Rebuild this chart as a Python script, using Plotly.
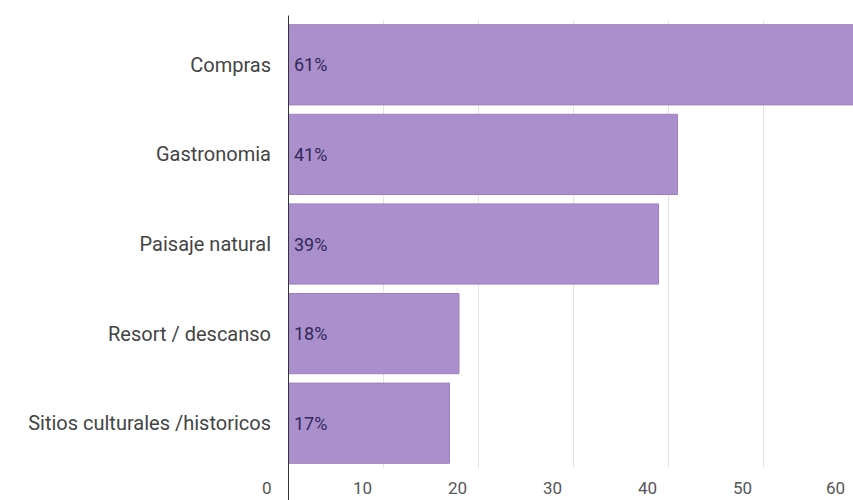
import plotly.graph_objects as go

# Motivos de viaje (porcentaje de encuestados)
categories = ["Compras", "Gastronomia", "Paisaje natural", "Resort / descanso",
              "Sitios culturales /historicos"]
values = [61, 41, 39, 18, 17]
value_labels = [f"{v}%" for v in values]
x_ticks = [0, 10, 20, 30, 40, 50, 60]

BAR = "#ab8fcc"
TEXT = "#444444"
TICK = "#555555"
X_MAX = 59.47

fig = go.Figure()

fig.add_trace(go.Bar(
    y=categories,
    x=values,
    orientation="h",
    marker=dict(color=BAR, line=dict(color="#9d80c2", width=1)),
    hoverinfo="x+y",
))

fig.update_layout(
    width=853,
    height=500,
    margin=dict(l=288, r=0, t=20, b=32),
    plot_bgcolor="white",
    paper_bgcolor="white",
    bargap=0.105,
    showlegend=False,
    font=dict(family="Roboto", color=TEXT),
)

fig.update_yaxes(
    autorange="reversed",
    showgrid=False,
    showline=False,
    ticks="",
    tickfont=dict(size=20, color=TEXT),
    ticklabelstandoff=16,
)

fig.update_xaxes(
    range=[0, X_MAX],
    tickvals=x_ticks,
    showticklabels=False,
    showgrid=True,
    gridcolor="#e3e3e3",
    gridwidth=1,
    zeroline=False,
    showline=False,
    ticks="",
)

# Baseline at zero, running past the bottom of the plot area
fig.add_shape(type="line", xref="x", yref="paper", x0=0, x1=0, y0=-0.08, y1=1.01,
              line=dict(color="#333333", width=2))

# Percentage labels just right of the baseline, inside each bar
for cat, lab in zip(categories, value_labels):
    fig.add_annotation(x=0, xref="x", y=cat, yref="y", text=lab, showarrow=False,
                       xanchor="left", xshift=4,
                       font=dict(family="Roboto", size=18, color="#2f2858"))

# Tick labels set just left of their gridlines
for t in x_ticks:
    if t <= X_MAX:
        fig.add_annotation(x=t, xref="x", y=-0.018, yref="paper", yanchor="top",
                           text=str(t), showarrow=False, xanchor="right",
                           xshift=-14 if t == 0 else -9,
                           font=dict(size=17, color=TICK))
    else:
        fig.add_annotation(x=1, xref="paper", y=-0.018, yref="paper", yanchor="top",
                           text=str(t), showarrow=False, xanchor="right", xshift=-6,
                           font=dict(size=17, color=TICK))

fig.write_html("out.html")
